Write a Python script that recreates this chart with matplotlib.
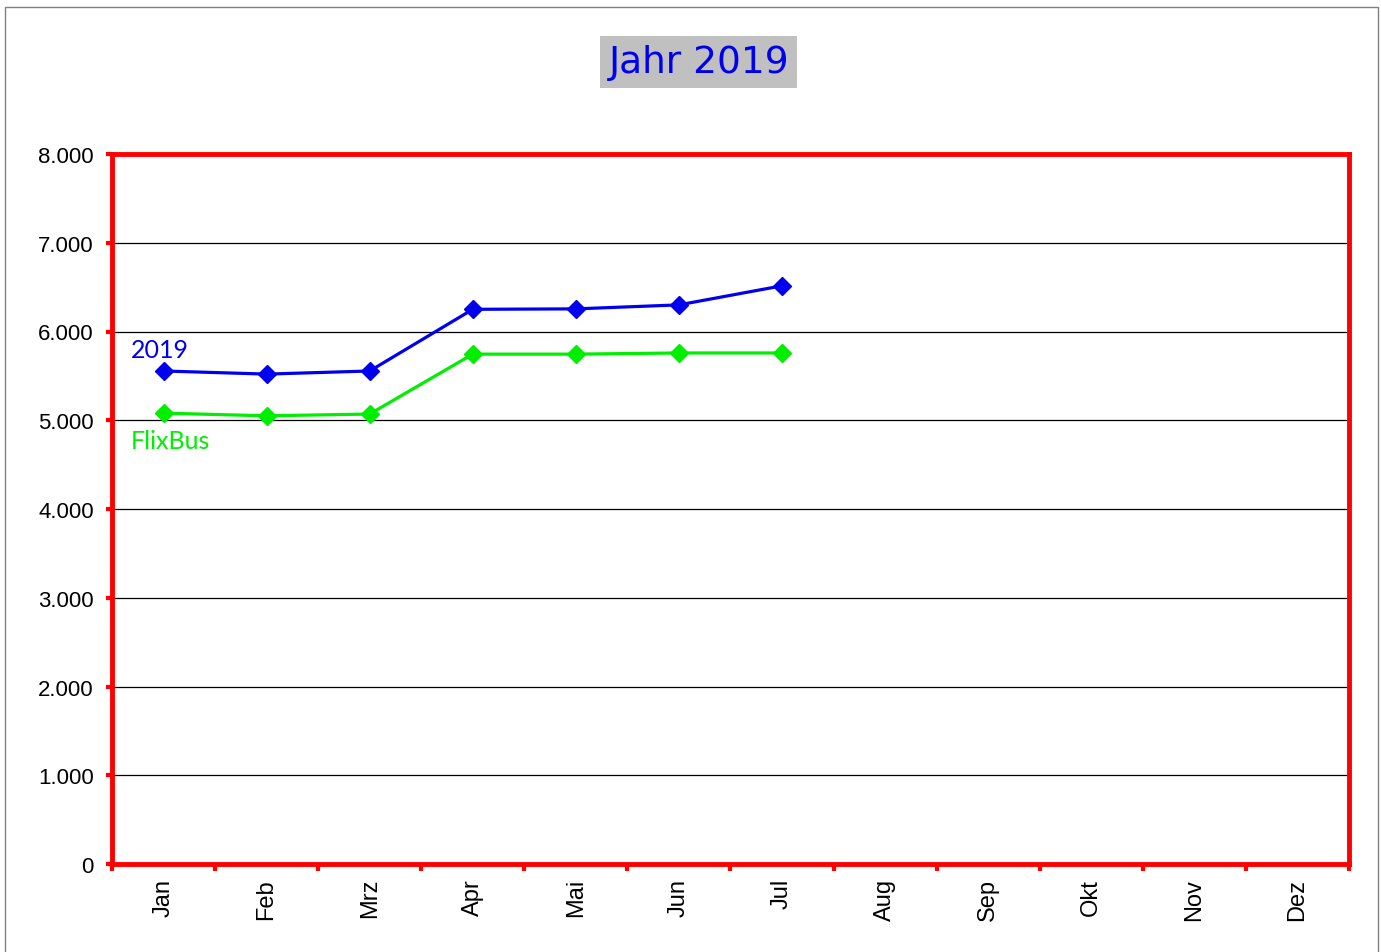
import matplotlib.pyplot as plt
import matplotlib.patches as patches
from matplotlib.ticker import FuncFormatter, FixedLocator

months = ["Jan", "Feb", "Mrz", "Apr", "Mai", "Jun", "Jul", "Aug", "Sep", "Okt", "Nov", "Dez"]
vals_2019 = [5555, 5520, 5555, 6250, 6255, 6300, 6515]
vals_flixbus = [5080, 5050, 5070, 5745, 5745, 5758, 5758]
yticks = [0, 1000, 2000, 3000, 4000, 5000, 6000, 7000, 8000]

fig = plt.figure(figsize=(13.81, 9.53), dpi=100)
ax = fig.add_axes([112/1381, 1-865/953, (1349-112)/1381, (865-155)/953])

# outer gray frame
fig.patches.append(patches.Rectangle((5/1381, -0.01), (1378-5)/1381, 1-8/953+0.01,
                                     transform=fig.transFigure, fill=False,
                                     edgecolor="#808080", lw=1))

for y in yticks[1:-1]:
    ax.axhline(y, color="black", lw=0.9, zorder=1)

x1 = list(range(len(vals_2019)))
ax.plot(x1, vals_2019, color="#0000ee", lw=2.3, marker="D", ms=9, zorder=3)
ax.plot(x1, vals_flixbus, color="#00ee00", lw=2.3, marker="D", ms=9, zorder=3)

ax.text(-0.32, 5800, "2019", color="#0000ee", fontsize=18, family="Lato", va="center")
ax.text(-0.32, 4770, "FlixBus", color="#00ee00", fontsize=18, family="Lato", va="center")

ax.set_xlim(-0.5, len(months) - 0.5)
ax.set_ylim(0, 8000)
ax.set_yticks(yticks)
ax.yaxis.set_major_formatter(FuncFormatter(lambda v, p: f"{int(v):,}".replace(",", ".")))
ax.set_xticks(range(len(months)))
ax.set_xticklabels(months, rotation=90, fontsize=17, family="Liberation Sans")
ax.xaxis.set_minor_locator(FixedLocator([i - 0.5 for i in range(len(months) + 1)]))
ax.tick_params(axis="x", which="major", length=0, pad=10)
ax.tick_params(axis="x", which="minor", length=5, width=3, color="red", direction="out")
ax.tick_params(axis="y", length=4, width=3, color="red", pad=9, labelsize=16)
for lab in ax.get_yticklabels():
    lab.set_family("Liberation Sans")

for s in ax.spines.values():
    s.set_color("red")
    s.set_linewidth(3.5)

fig.text(0.506, 1-63/953, "Jahr 2019", color="#0000ee", fontsize=27,
         family="DejaVu Sans", ha="center", va="center",
         bbox=dict(facecolor="#c0c0c0", edgecolor="none", pad=6))

fig.savefig("out.png", dpi=100)
